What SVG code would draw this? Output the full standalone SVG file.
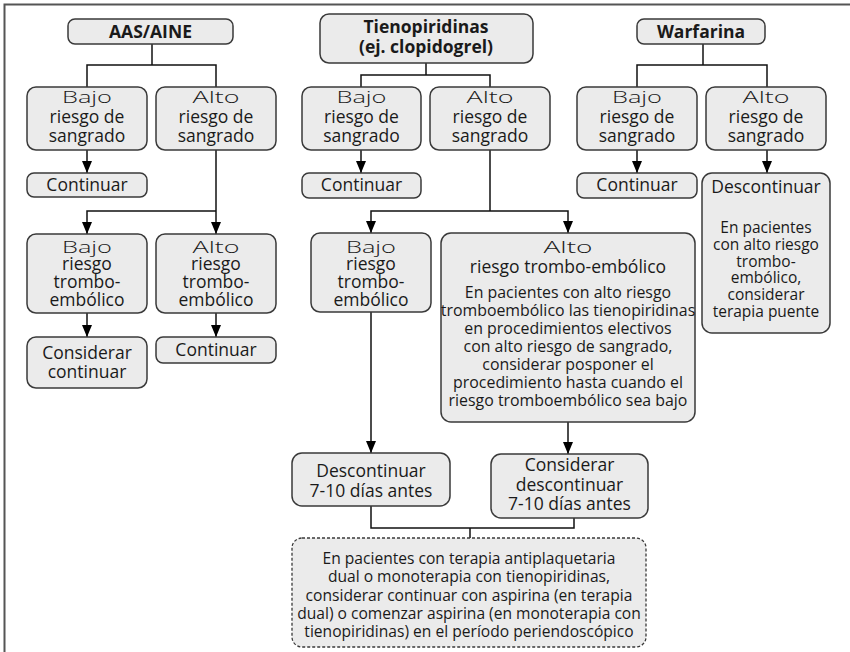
<svg xmlns="http://www.w3.org/2000/svg" width="850" height="652" viewBox="0 0 850 652">
<style>
.bx{fill:#ebebeb;stroke:#3a3a3a;stroke-width:1.5}
.dash{fill:#ebebeb;stroke:#3a3a3a;stroke-width:1.3;stroke-dasharray:3 2}
.ln{fill:none;stroke:#111;stroke-width:1.5}
text{font-family:"Open Sans","Noto Sans","Liberation Sans",sans-serif;fill:#1a1a1a;text-anchor:middle}
.t{font-weight:bold;font-size:17.5px}
.h{font-size:16px;font-weight:300}
.b{font-size:17.5px}
.s{font-size:15.9px}
.n{font-size:15.6px}
.w{font-size:15.5px}
</style>
<g id="frame"><path d="M4.5,652 V4.5 H850" fill="none" stroke="#555" stroke-width="2"/></g>

<g id="connectors">
<path class="ln" d="M152,44 V65"/>
<path class="ln" d="M87,87 V65 H216 V87"/>
<path class="ln" d="M87,150 V173"/>
<path class="ln" d="M216,150 V234"/>
<path class="ln" d="M216,211 H87 V234"/>
<path class="ln" d="M87,313 V337"/>
<path class="ln" d="M216,313 V337"/>
<path class="ln" d="M426,63 V75"/>
<path class="ln" d="M361,87 V75 H490 V87"/>
<path class="ln" d="M361,150 V173"/>
<path class="ln" d="M490,150 V211"/>
<path class="ln" d="M490,211 H371 V233"/>
<path class="ln" d="M490,211 H568 V233"/>
<path class="ln" d="M371,312 V453"/>
<path class="ln" d="M568,422 V454"/>
<path class="ln" d="M371,506 V528 H574 V518"/>
<path class="ln" d="M470,528 V538"/>
<path class="ln" d="M703,44 V65"/>
<path class="ln" d="M637,87 V65 H767 V87"/>
<path class="ln" d="M637,150 V173"/>
<path class="ln" d="M767,150 V173"/>
<g fill="#000">
<path d="M82,161 H92 L87,173 Z"/>
<path d="M82,222 H92 L87,234 Z"/>
<path d="M211,222 H221 L216,234 Z"/>
<path d="M82,325 H92 L87,337 Z"/>
<path d="M211,325 H221 L216,337 Z"/>
<path d="M356,161 H366 L361,173 Z"/>
<path d="M366,221 H376 L371,233 Z"/>
<path d="M563,221 H573 L568,233 Z"/>
<path d="M366,441 H376 L371,453 Z"/>
<path d="M563,442 H573 L568,454 Z"/>
<path d="M632,161 H642 L637,173 Z"/>
<path d="M762,161 H772 L767,173 Z"/>
</g>
</g>

<g id="aas"><rect class="bx" x="68" y="19" width="165" height="25" rx="7"/><text class="t" x="150.5" y="38">AAS/AINE</text></g>
<g id="aas-bajo"><rect class="bx" x="27" y="87" width="120" height="63" rx="9"/>
<text class="h" x="87" y="103" textLength="50" lengthAdjust="spacingAndGlyphs">Bajo</text>
<text class="b" x="87" y="123">riesgo de</text><text class="b" x="87" y="142">sangrado</text></g>
<g id="aas-alto"><rect class="bx" x="156" y="87" width="120" height="63" rx="9"/>
<text class="h" x="216" y="103" textLength="47" lengthAdjust="spacingAndGlyphs">Alto</text>
<text class="b" x="216" y="123">riesgo de</text><text class="b" x="216" y="142">sangrado</text></g>
<g id="aas-cont"><rect class="bx" x="27" y="173" width="120" height="24" rx="7"/><text class="b" x="87" y="191">Continuar</text></g>
<g id="aas-bajo-te"><rect class="bx" x="27" y="234" width="120" height="79" rx="9"/>
<text class="h" x="87" y="253" textLength="50" lengthAdjust="spacingAndGlyphs">Bajo</text>
<text class="b" x="87" y="270">riesgo</text><text class="b" x="87" y="288">trombo-</text><text class="b" x="87" y="306">embólico</text></g>
<g id="aas-alto-te"><rect class="bx" x="156" y="234" width="120" height="79" rx="9"/>
<text class="h" x="216" y="253" textLength="47" lengthAdjust="spacingAndGlyphs">Alto</text>
<text class="b" x="216" y="270">riesgo</text><text class="b" x="216" y="288">trombo-</text><text class="b" x="216" y="306">embólico</text></g>
<g id="aas-considerar"><rect class="bx" x="27" y="337" width="120" height="51" rx="9"/>
<text class="b" x="87" y="359">Considerar</text><text class="b" x="87" y="378">continuar</text></g>
<g id="aas-cont2"><rect class="bx" x="156" y="337" width="120" height="26" rx="7"/><text class="b" x="216" y="356">Continuar</text></g>

<g id="tieno"><rect class="bx" x="320" y="14" width="213" height="49" rx="9"/>
<text class="t" x="426" y="33">Tienopiridinas</text><text class="t" x="426" y="53">(ej. clopidogrel)</text></g>
<g id="tieno-bajo"><rect class="bx" x="302" y="87" width="119" height="63" rx="9"/>
<text class="h" x="361.5" y="103" textLength="50" lengthAdjust="spacingAndGlyphs">Bajo</text>
<text class="b" x="361.5" y="123">riesgo de</text><text class="b" x="361.5" y="142">sangrado</text></g>
<g id="tieno-alto"><rect class="bx" x="430" y="87" width="120" height="63" rx="9"/>
<text class="h" x="490" y="103" textLength="47" lengthAdjust="spacingAndGlyphs">Alto</text>
<text class="b" x="490" y="123">riesgo de</text><text class="b" x="490" y="142">sangrado</text></g>
<g id="tieno-cont"><rect class="bx" x="302" y="173" width="119" height="25" rx="7"/><text class="b" x="361.5" y="191">Continuar</text></g>
<g id="tieno-bajo-te"><rect class="bx" x="311" y="233" width="120" height="79" rx="9"/>
<text class="h" x="371" y="253" textLength="50" lengthAdjust="spacingAndGlyphs">Bajo</text>
<text class="b" x="371" y="270">riesgo</text><text class="b" x="371" y="288">trombo-</text><text class="b" x="371" y="306">embólico</text></g>
<g id="tieno-alto-te"><rect class="bx" x="441" y="233" width="254" height="189" rx="10"/>
<text class="h" x="568" y="253" textLength="49" lengthAdjust="spacingAndGlyphs">Alto</text>
<text class="b" x="568" y="273">riesgo trombo-embólico</text>
<text class="s" x="568" y="298">En pacientes con alto riesgo</text>
<text class="s" x="568" y="316">tromboembólico las tienopiridinas</text>
<text class="s" x="568" y="334">en procedimientos electivos</text>
<text class="s" x="568" y="352">con alto riesgo de sangrado,</text>
<text class="s" x="568" y="370">considerar posponer el</text>
<text class="s" x="568" y="388">procedimiento hasta cuando el</text>
<text class="s" x="568" y="406">riesgo tromboembólico sea bajo</text></g>
<g id="tieno-desc"><rect class="bx" x="292" y="453" width="158" height="53" rx="10"/>
<text class="b" x="371" y="477">Descontinuar</text><text class="b" x="371" y="497">7-10 días antes</text></g>
<g id="tieno-cons-desc"><rect class="bx" x="491" y="454" width="157" height="64" rx="10"/>
<text class="b" x="569.5" y="471">Considerar</text><text class="b" x="569.5" y="491">descontinuar</text><text class="b" x="569.5" y="510">7-10 días antes</text></g>
<g id="nota"><rect class="dash" x="292" y="538" width="354" height="109" rx="10"/>
<text class="n" x="469" y="564">En pacientes con terapia antiplaquetaria</text>
<text class="n" x="469" y="582">dual o monoterapia con tienopiridinas,</text>
<text class="n" x="469" y="601">considerar continuar con aspirina (en terapia</text>
<text class="n" x="469" y="619">dual) o comenzar aspirina (en monoterapia con</text>
<text class="n" x="469" y="637">tienopiridinas) en el período periendoscópico</text></g>

<g id="warf"><rect class="bx" x="637" y="19" width="128" height="25" rx="7"/><text class="t" x="701" y="38">Warfarina</text></g>
<g id="warf-bajo"><rect class="bx" x="577" y="87" width="120" height="63" rx="9"/>
<text class="h" x="637" y="103" textLength="50" lengthAdjust="spacingAndGlyphs">Bajo</text>
<text class="b" x="637" y="123">riesgo de</text><text class="b" x="637" y="142">sangrado</text></g>
<g id="warf-alto"><rect class="bx" x="706" y="87" width="120" height="63" rx="9"/>
<text class="h" x="766" y="103" textLength="47" lengthAdjust="spacingAndGlyphs">Alto</text>
<text class="b" x="766" y="123">riesgo de</text><text class="b" x="766" y="142">sangrado</text></g>
<g id="warf-cont"><rect class="bx" x="577" y="173" width="120" height="25" rx="7"/><text class="b" x="637" y="191">Continuar</text></g>
<g id="warf-desc"><rect class="bx" x="702" y="173" width="128" height="160" rx="10"/>
<text class="b" x="766" y="193">Descontinuar</text>
<text class="w" x="766" y="233">En pacientes</text>
<text class="w" x="766" y="250">con alto riesgo</text>
<text class="w" x="766" y="267">trombo-</text>
<text class="w" x="766" y="283">embólico,</text>
<text class="w" x="766" y="300">considerar</text>
<text class="w" x="766" y="317">terapia puente</text></g>
</svg>
